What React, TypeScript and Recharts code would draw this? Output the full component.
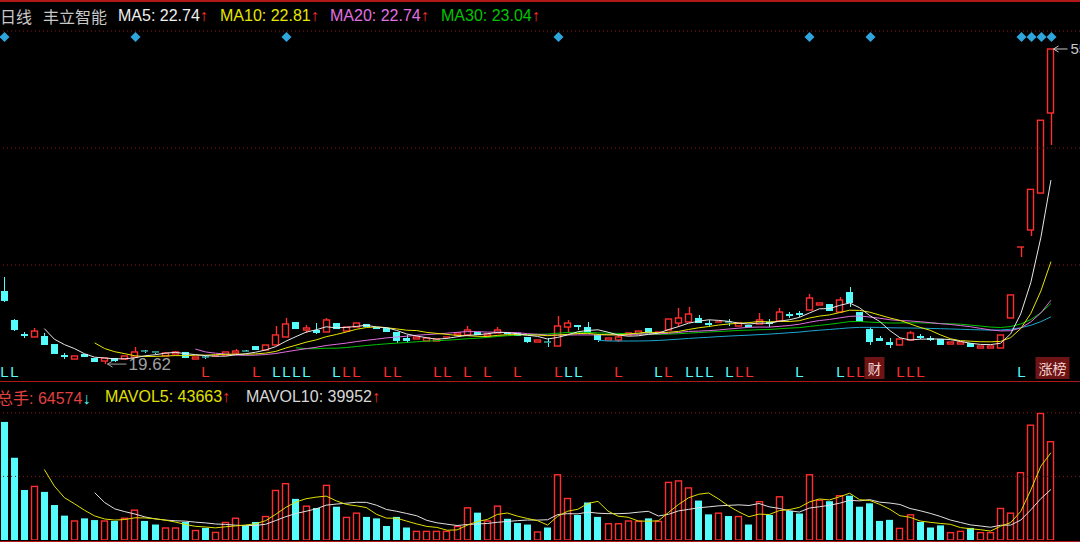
import { ComposedChart, Bar, Line, XAxis, YAxis, ReferenceLine } from 'recharts';

// daily OHLC, oldest first
const opens = [
  28.0, 24.68, 23.07, 22.73, 22.84, 21.92, 20.66, 20.2, 20.78, 20.32,
  19.97, 20.32, 20.2, 20.43, 21.12, 21.01, 20.55, 20.78, 21.01, 20.2,
  20.43, 20.43, 20.66, 20.89, 21.12, 21.69, 21.23, 21.81, 22.73, 24.45,
  23.53, 23.53, 23.3, 24.33, 23.41, 23.87, 24.22, 23.87, 23.76, 23.3,
  22.61, 22.5, 22.27, 22.27, 22.61, 22.96, 22.96, 23.3, 22.84, 23.19,
  23.3, 23.19, 22.73, 22.15, 22.15, 21.69, 23.87, 24.1, 23.87, 22.96,
  22.38, 22.38, 22.96, 23.07, 23.76, 23.19, 23.53, 24.33, 24.45, 24.91,
  24.33, 24.33, 24.45, 23.99, 24.1, 24.22, 24.45, 24.56, 25.36, 25.48,
  25.82, 26.4, 26.51, 25.59, 27.89, 25.59, 23.64, 22.61, 22.15, 21.81,
  22.38, 22.84, 22.61, 22.5, 21.92, 21.92, 22.04, 21.46, 21.46, 21.46,
  24.91, 33.05, 35.0, 39.24, 48.42,
];
const highs = [
  29.61, 24.79, 23.3, 23.76, 23.19, 21.92, 20.89, 20.55, 20.78, 20.32,
  20.32, 20.32, 20.55, 21.58, 21.23, 21.01, 21.01, 21.12, 21.01, 20.43,
  20.55, 20.66, 21.01, 21.35, 21.23, 21.69, 21.81, 23.99, 24.91, 24.45,
  24.1, 24.33, 24.91, 24.33, 23.87, 24.33, 24.22, 23.87, 23.76, 23.3,
  22.96, 22.73, 22.61, 22.5, 22.73, 23.19, 23.99, 23.3, 23.07, 23.87,
  23.3, 23.19, 22.73, 22.38, 22.61, 25.13, 24.68, 24.1, 24.45, 22.96,
  22.61, 22.96, 23.19, 23.41, 23.76, 23.3, 24.79, 26.05, 26.17, 25.25,
  24.68, 24.45, 24.79, 24.33, 24.1, 25.48, 24.79, 26.05, 25.59, 25.71,
  27.66, 26.63, 26.51, 27.31, 28.46, 25.59, 23.87, 22.84, 22.61, 22.5,
  23.41, 23.07, 22.84, 22.5, 22.15, 22.15, 22.04, 21.69, 21.69, 22.96,
  27.55, 33.05, 39.66, 47.59, 55.76,
];
const lows = [
  26.74, 23.41, 22.61, 22.73, 21.81, 20.78, 20.2, 20.2, 20.43, 19.86,
  19.62, 19.86, 20.09, 20.43, 20.89, 20.78, 20.55, 20.78, 20.32, 20.2,
  20.2, 20.43, 20.66, 20.78, 21.01, 21.23, 21.23, 21.81, 22.73, 23.64,
  23.19, 23.07, 23.3, 23.64, 23.41, 23.87, 23.87, 23.64, 23.3, 22.04,
  22.04, 22.5, 22.27, 22.27, 22.61, 22.96, 22.96, 22.96, 22.84, 23.19,
  23.07, 22.84, 22.04, 22.15, 21.58, 21.69, 23.3, 23.53, 23.19, 22.15,
  22.38, 22.15, 22.96, 23.07, 23.19, 23.19, 23.53, 23.87, 24.45, 24.33,
  23.87, 24.33, 23.99, 23.99, 23.87, 24.22, 23.87, 24.56, 24.91, 25.02,
  25.82, 26.4, 25.71, 25.59, 26.17, 24.45, 21.81, 22.27, 21.46, 21.81,
  22.38, 22.5, 22.27, 21.81, 21.92, 21.92, 21.58, 21.46, 21.46, 21.46,
  24.91, 31.9, 34.31, 39.24, 44.75,
];
const closes = [
  26.86, 23.53, 22.84, 23.41, 21.81, 20.78, 20.43, 20.55, 20.43, 19.86,
  20.32, 19.97, 20.55, 21.01, 21.01, 20.89, 20.89, 21.01, 20.32, 20.43,
  20.32, 20.55, 21.01, 21.12, 21.01, 21.23, 21.81, 22.96, 24.22, 23.64,
  23.76, 23.19, 24.68, 23.64, 23.87, 24.33, 23.87, 23.64, 23.3, 22.27,
  22.27, 22.73, 22.61, 22.5, 22.73, 23.19, 23.53, 22.96, 23.07, 23.53,
  23.07, 22.84, 22.15, 22.38, 22.04, 23.99, 24.33, 23.87, 23.19, 22.38,
  22.61, 22.73, 23.19, 23.41, 23.19, 23.3, 24.79, 24.91, 25.36, 24.33,
  24.1, 24.45, 24.33, 24.33, 23.87, 24.68, 24.22, 25.59, 25.13, 25.25,
  27.2, 26.63, 25.71, 26.97, 26.63, 24.45, 22.15, 22.27, 21.81, 22.5,
  23.19, 22.61, 22.38, 21.81, 22.15, 22.15, 21.58, 21.69, 21.69, 22.96,
  27.55, 33.05, 39.66, 47.59, 55.76,
];
// 总手
const volumes = [
  55700, 38800, 23600, 25500, 22700, 16500, 11500, 9200, 10200, 9400,
  9200, 9000, 10500, 14300, 9000, 7300, 5900, 5900, 8500, 4700,
  5700, 3800, 8500, 10500, 6900, 8500, 11300, 23600, 26800, 19400,
  16200, 15100, 26000, 15700, 10900, 12900, 10900, 10200, 6600, 10900,
  5900, 4300, 4300, 4300, 4300, 6600, 15400, 12900, 9200, 16200,
  10000, 8000, 7300, 4000, 5900, 31000, 19800, 11800, 17700, 10900,
  7900, 7900, 9200, 9000, 10200, 9000, 27400, 28100, 24800, 18600,
  12100, 12900, 11300, 11300, 7300, 18300, 11800, 20600, 13700, 12500,
  31000, 19000, 18300, 21100, 20900, 15700, 17300, 9000, 9500, 5700,
  12100, 8500, 5900, 6900, 3700, 4300, 5700, 3700, 3700, 15100,
  12900, 32000, 54400, 59900, 46600,
];

// signal marks (day index)
const diamondDays = [0, 13, 28, 55, 80, 86, 101, 102, 103, 104];
const redLDays = [20, 25, 34, 35, 38, 39, 43, 44, 46, 48, 51, 55, 61, 66, 73, 74, 84, 85, 89, 90, 91];
const cyanLDays = [0, 1, 27, 28, 29, 30, 33, 56, 57, 65, 68, 69, 70, 72, 79, 83, 101];
const tagDays = [86, 103];
const tagTexts = ['财', '涨榜'];

const priceGrid = [30.98, 44.4, 57.82];
const volGrid = [30000, 60000];

const PRICE_DOMAIN: [number, number] = [17.68, 61.38];
const VOL_DOMAIN: [number, number] = [0, 75000];

const RED = '#ff2e2e';
const CYAN = '#54fcfc';
const GRID = '#8c1414';
const FRAME = '#b01818';
const LATIN = '"Liberation Sans", Arial, "Noto Sans CJK SC", sans-serif';
const CJK = '"Noto Sans CJK SC", "Liberation Sans", sans-serif';

const movingAvg = (src: number[], n: number) =>
  src.map((_, i) => (i < n - 1 ? null : src.slice(i - n + 1, i + 1).reduce((a, b) => a + b, 0) / n));

const ma5 = movingAvg(closes, 5);
const ma10 = movingAvg(closes, 10);
const ma20 = movingAvg(closes, 20);
const ma30 = movingAvg(closes, 30);
const ma60 = movingAvg(closes, 60);
const mavol5 = movingAvg(volumes, 5);
const mavol10 = movingAvg(volumes, 10);

const lowest = lows.indexOf(Math.min(...lows));
const highest = highs.indexOf(Math.max(...highs));

const rows = closes.map((close, i) => ({
  day: i + 1,
  open: opens[i],
  high: highs[i],
  low: lows[i],
  close,
  range: [lows[i], highs[i]],
  vol: volumes[i],
  ma5: ma5[i],
  ma10: ma10[i],
  ma20: ma20[i],
  ma30: ma30[i],
  ma60: ma60[i],
  mavol5: mavol5[i],
  mavol10: mavol10[i],
  diamond: diamondDays.includes(i),
  mark: redLDays.includes(i) ? RED : cyanLDays.includes(i) ? CYAN : null,
  tag: tagDays.includes(i) ? tagTexts[tagDays.indexOf(i)] : null,
}));

function Candle(props: any) {
  const { x, y, width, height, payload, index } = props;
  const { open, close, high, low, diamond, mark, tag } = payload;
  const py = (p: number) => y + ((high - p) / (high - low)) * height;
  const cx = Math.floor(x + width / 2) + 0.5;
  const left = Math.floor(x) + 0.5;
  const w = Math.round(width) - 1;
  const up = close >= open;
  const color = up ? RED : CYAN;
  const sw = up ? 1.4 : 1;
  const bTop = py(Math.max(open, close));
  const bBot = py(Math.min(open, close));
  const panelTop = py(PRICE_DOMAIN[1]);
  const panelBottom = py(PRICE_DOMAIN[0]);

  let body;
  if (bBot - bTop < 1.5)
    body = <line x1={left - 0.5} x2={left + w + 0.5} y1={bTop} y2={bTop} stroke={color} strokeWidth={sw} />;
  else if (up) body = <rect x={left} y={bTop} width={w} height={bBot - bTop} fill="#000" stroke={RED} strokeWidth={sw} />;
  else body = <rect x={left - 0.5} y={bTop} width={w + 1} height={bBot - bTop} fill={CYAN} />;

  return (
    <g>
      {bTop - py(high) > 0.5 && <line x1={cx} x2={cx} y1={py(high)} y2={bTop} stroke={color} strokeWidth={sw} />}
      {py(low) - bBot > 0.5 && <line x1={cx} x2={cx} y1={bBot} y2={py(low)} stroke={color} strokeWidth={sw} />}
      {body}
      {diamond && (
        <polygon
          points={`${cx},${panelTop + 32} ${cx + 5},${panelTop + 37} ${cx},${panelTop + 42} ${cx - 5},${panelTop + 37}`}
          fill="#2ea6dc"
        />
      )}
      {mark && (
        <text x={cx} y={panelBottom - 4} textAnchor="middle" fill={mark} fontSize={15} fontFamily={LATIN}>
          L
        </text>
      )}
      {tag && (
        <g>
          <rect x={cx - 6} y={panelBottom - 24} width={tag.length * 14 + 6} height={22} fill="#6e1414" />
          <text x={cx - 3} y={panelBottom - 7} fill="#f2d2d2" fontSize={14} fontFamily={CJK}>
            {tag}
          </text>
        </g>
      )}
      {index === lowest && (
        <g stroke="#a0a0a0">
          <line x1={cx + 2} x2={cx + 21} y1={py(low)} y2={py(low)} />
          <path d={`M${cx + 7},${py(low) - 3} L${cx + 2},${py(low)} L${cx + 7},${py(low) + 3}`} fill="none" />
          <text x={cx + 23} y={py(low) + 6} fill="#a0a0a0" stroke="none" fontSize={17} fontFamily={LATIN}>
            {low.toFixed(2)}
          </text>
        </g>
      )}
      {index === highest && (
        <g stroke="#c8c8c8">
          <line x1={cx + 2} x2={cx + 16} y1={py(high)} y2={py(high)} />
          <path d={`M${cx + 7},${py(high) - 3} L${cx + 2},${py(high)} L${cx + 7},${py(high) + 3}`} fill="none" />
          <text x={cx + 19} y={py(high) + 5} fill="#c8c8c8" stroke="none" fontSize={15} fontFamily={LATIN}>
            {high.toFixed(2)}
          </text>
        </g>
      )}
    </g>
  );
}

function VolBar(props: any) {
  const { x, y, width, height, payload } = props;
  const left = Math.floor(x) + 0.5;
  const w = Math.round(width) - 1;
  if (payload.close >= payload.open)
    return (
      <rect x={left} y={y + 0.5} width={w} height={Math.max(height - 0.5, 0)} fill="none" stroke={RED} strokeWidth={1.4} />
    );
  return <rect x={left - 0.5} y={y} width={w + 1} height={height} fill={CYAN} />;
}

const hline = (top: number, h: number, color: string) => (
  <div style={{ position: 'absolute', left: 0, top, width: 1080, height: h, background: color }} />
);

export default function App() {
  return (
    <div
      style={{
        position: 'absolute',
        left: 0,
        top: 0,
        width: 1080,
        height: 542,
        background: '#000',
        overflow: 'hidden',
        fontFamily: LATIN,
      }}
    >
      <div style={{ position: 'absolute', left: -1, top: 0 }}>
        <ComposedChart width={1081} height={381} data={rows} margin={{ top: 0, right: 0, bottom: 0, left: 0 }} barSize={7}>
          <XAxis dataKey="day" hide padding={{ left: 0, right: 24 }} />
          <YAxis hide domain={PRICE_DOMAIN} />
          {priceGrid.map((v) => (
            <ReferenceLine key={v} y={v} stroke={GRID} strokeDasharray="1 3" />
          ))}
          <Bar dataKey="range" shape={Candle} isAnimationActive={false} />
          <Line dataKey="ma60" stroke="#1ca8d2" dot={false} isAnimationActive={false} />
          <Line dataKey="ma30" stroke="#00c400" dot={false} isAnimationActive={false} />
          <Line dataKey="ma20" stroke="#e070e0" dot={false} isAnimationActive={false} />
          <Line dataKey="ma10" stroke="#e6e600" dot={false} isAnimationActive={false} />
          <Line dataKey="ma5" stroke="#e8e8e8" dot={false} isAnimationActive={false} />
        </ComposedChart>
      </div>

      <div style={{ position: 'absolute', left: -1, top: 381 }}>
        <ComposedChart width={1081} height={159} data={rows} margin={{ top: 0, right: 0, bottom: 0, left: 0 }} barSize={7}>
          <XAxis dataKey="day" hide padding={{ left: 0, right: 24 }} />
          <YAxis hide domain={VOL_DOMAIN} />
          {volGrid.map((v) => (
            <ReferenceLine key={v} y={v} stroke={GRID} strokeDasharray="1 3" />
          ))}
          <Bar dataKey="vol" shape={VolBar} isAnimationActive={false} />
          <Line dataKey="mavol10" stroke="#e0e0e0" dot={false} isAnimationActive={false} />
          <Line dataKey="mavol5" stroke="#e0e000" dot={false} isAnimationActive={false} />
        </ComposedChart>
      </div>

      {hline(0, 2, FRAME)}
      {hline(381, 1, FRAME)}
      {hline(541, 1, FRAME)}

      <div style={{ position: 'absolute', left: 0, top: 6, fontSize: 16, lineHeight: '20px', whiteSpace: 'nowrap' }}>
        <span style={{ position: 'absolute', left: 0, color: '#c8c8c8', fontFamily: CJK }}>日线</span>
        <span style={{ position: 'absolute', left: 43, color: '#c8c8c8', fontFamily: CJK }}>丰立智能</span>
        <span style={{ position: 'absolute', left: 118, color: '#f0f0f0' }}>
          MA5: 22.74<span style={{ color: RED }}>↑</span>
        </span>
        <span style={{ position: 'absolute', left: 220, color: '#e6e600' }}>
          MA10: 22.81<span style={{ color: RED }}>↑</span>
        </span>
        <span style={{ position: 'absolute', left: 330, color: '#e070e0' }}>
          MA20: 22.74<span style={{ color: RED }}>↑</span>
        </span>
        <span style={{ position: 'absolute', left: 441, color: '#00c400' }}>
          MA30: 23.04<span style={{ color: RED }}>↑</span>
        </span>
      </div>

      <div style={{ position: 'absolute', left: 0, top: 387, fontSize: 16, lineHeight: '20px', whiteSpace: 'nowrap' }}>
        <span style={{ position: 'absolute', left: -3, color: '#e04040' }}>
          <span style={{ fontFamily: CJK }}>总手</span>: 64574<span style={{ color: CYAN }}>↓</span>
        </span>
        <span style={{ position: 'absolute', left: 105, color: '#e0e000' }}>
          MAVOL5: 43663<span style={{ color: RED }}>↑</span>
        </span>
        <span style={{ position: 'absolute', left: 246, color: '#d8d8d8' }}>
          MAVOL10: 39952<span style={{ color: RED }}>↑</span>
        </span>
      </div>
    </div>
  );
}
